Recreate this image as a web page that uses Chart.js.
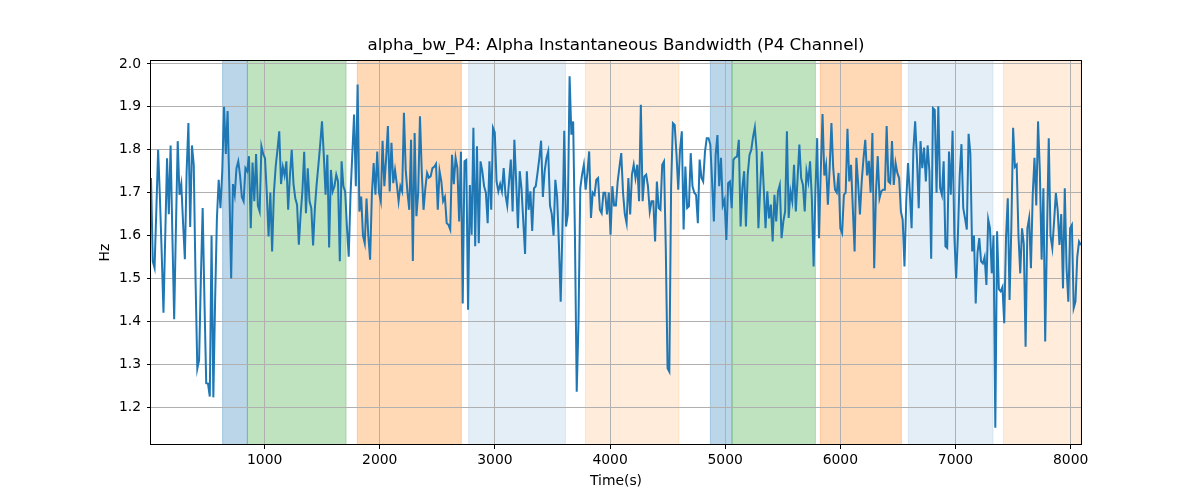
<!DOCTYPE html>
<html>
<head>
<meta charset="utf-8">
<script src="https://cdn.jsdelivr.net/npm/chart.js@4.4.1/dist/chart.umd.min.js"></script>
<style>
  html, body { margin: 0; padding: 0; background: #fff; }
  #wrap { width: 1200px; height: 500px; }
</style>
</head>
<body>
<div id="wrap"><canvas id="bwChart" width="1200" height="500"></canvas></div>
<script>
// sample times: first sample and spacing (s)
const startTime = 13;
const sampleStep = 15.47;

// alpha instantaneous bandwidth, P4 channel (Hz)
const alphaBandwidth = [
  1.734, 1.54, 1.525, 1.66, 1.80, 1.69, 1.56, 1.42, 1.60, 1.78,
  1.65, 1.81, 1.60, 1.405, 1.62, 1.82, 1.695, 1.72, 1.63, 1.545,
  1.75, 1.862, 1.62, 1.81, 1.765, 1.50, 1.29, 1.31, 1.50, 1.664,
  1.45, 1.256, 1.255, 1.225, 1.60, 1.223, 1.45, 1.64, 1.73, 1.664,
  1.75, 1.90, 1.79, 1.89, 1.71, 1.50, 1.72, 1.695, 1.757, 1.773,
  1.74, 1.69, 1.68, 1.757, 1.75, 1.785, 1.617, 1.77, 1.68, 1.79,
  1.67, 1.656, 1.808, 1.79, 1.78, 1.70, 1.598, 1.70, 1.563, 1.70,
  1.761, 1.80, 1.843, 1.72, 1.76,

  1.74, 1.773, 1.66, 1.74, 1.80, 1.72, 1.687, 1.672, 1.579, 1.649,
  1.703, 1.795, 1.652, 1.757, 1.68, 1.664, 1.577, 1.664, 1.72, 1.765,
  1.813, 1.866, 1.788, 1.695, 1.788, 1.572, 1.753, 1.703, 1.715, 1.742,
  1.726, 1.540, 1.773, 1.715, 1.703, 1.62, 1.551, 1.695, 1.788, 1.882,
  1.715, 1.952, 1.656, 1.691, 1.60, 1.582, 1.686, 1.60, 1.544, 1.695,
  1.769, 1.695, 1.796, 1.70, 1.680, 1.821, 1.715, 1.78, 1.855, 1.703,
  1.816, 1.722, 1.753, 1.72, 1.68, 1.715, 1.703, 1.886, 1.753, 1.70,
  1.66, 1.823, 1.541, 1.839, 1.645,

  1.70, 1.878, 1.75, 1.66, 1.71, 1.746, 1.735, 1.738, 1.757, 1.76,
  1.767, 1.660, 1.75, 1.726, 1.68, 1.69, 1.629, 1.625, 1.614, 1.788,
  1.72, 1.781, 1.757, 1.633, 1.795, 1.442, 1.773, 1.776, 1.427, 1.718,
  1.602, 1.851, 1.575, 1.808, 1.582, 1.773, 1.75, 1.715, 1.70, 1.629,
  1.773, 1.66, 1.851, 1.84, 1.726, 1.703, 1.72, 1.703, 1.757, 1.695,
  1.67, 1.726, 1.777, 1.656, 1.823, 1.726, 1.617, 1.75, 1.71, 1.633,
  1.557, 1.750, 1.66, 1.703, 1.611, 1.71, 1.715, 1.746, 1.78, 1.821,
  1.69, 1.75, 1.78, 1.796, 1.67,

  1.65, 1.60, 1.73, 1.69, 1.58, 1.446, 1.62, 1.844, 1.621, 1.649,
  1.971, 1.835, 1.866, 1.60, 1.236, 1.40, 1.71, 1.742, 1.765, 1.707,
  1.746, 1.796, 1.641, 1.70, 1.695, 1.73, 1.734, 1.66, 1.652, 1.70,
  1.70, 1.649, 1.70, 1.602, 1.715, 1.67, 1.67, 1.726, 1.76, 1.792,
  1.70, 1.65, 1.629, 1.734, 1.649, 1.742, 1.765, 1.734, 1.765, 1.68,
  1.905, 1.68, 1.738, 1.742, 1.715, 1.656, 1.68, 1.68, 1.586, 1.726,
  1.664, 1.66, 1.765, 1.773, 1.57, 1.291, 1.283, 1.715, 1.862, 1.858,
  1.79, 1.707, 1.80, 1.843, 1.614,

  1.761, 1.664, 1.668, 1.792, 1.715, 1.70, 1.695, 1.629, 1.777, 1.735,
  1.726, 1.795, 1.827, 1.827, 1.812, 1.726, 1.633, 1.788, 1.834, 1.715,
  1.781, 1.67, 1.683, 1.590, 1.722, 1.726, 1.664, 1.777, 1.782, 1.784,
  1.823, 1.621, 1.711, 1.750, 1.621, 1.742, 1.788, 1.80, 1.83, 1.852,
  1.797, 1.617, 1.711, 1.796, 1.711, 1.617, 1.703, 1.64, 1.672, 1.586,
  1.695, 1.633, 1.703, 1.718, 1.594, 1.633, 1.656, 1.843, 1.641, 1.703,
  1.68, 1.765, 1.656, 1.734, 1.812, 1.734, 1.718, 1.656, 1.75, 1.726,
  1.773, 1.687, 1.528, 1.703, 1.827,

  1.594, 1.75, 1.883, 1.74, 1.765, 1.672, 1.757, 1.862, 1.757, 1.707,
  1.70, 1.746, 1.617, 1.606, 1.695, 1.70, 1.849, 1.726, 1.765, 1.664,
  1.563, 1.781, 1.72, 1.649, 1.726, 1.78, 1.823, 1.74, 1.774, 1.70,
  1.839, 1.524, 1.70, 1.785, 1.687, 1.703, 1.707, 1.707, 1.855, 1.726,
  1.722, 1.82, 1.718, 1.769, 1.746, 1.734, 1.656, 1.637, 1.528, 1.68,
  1.769, 1.70, 1.617, 1.80, 1.866, 1.78, 1.664, 1.82, 1.757, 1.805,
  1.726, 1.81, 1.75, 1.546, 1.897, 1.893, 1.70, 1.901, 1.711, 1.695,
  1.773, 1.575, 1.571, 1.796, 1.695,

  1.844, 1.60, 1.50, 1.60, 1.74, 1.813, 1.664, 1.64, 1.614, 1.837,
  1.79, 1.563, 1.60, 1.442, 1.56, 1.594, 1.54, 1.535, 1.55, 1.485,
  1.638, 1.617, 1.512, 1.60, 1.152, 1.610, 1.475, 1.470, 1.48, 1.396,
  1.594, 1.687, 1.450, 1.62, 1.851, 1.76, 1.765, 1.60, 1.512, 1.617,
  1.58, 1.341, 1.617, 1.641, 1.524, 1.695, 1.781, 1.67, 1.866, 1.75,
  1.544, 1.71, 1.353, 1.60, 1.827, 1.60, 1.571, 1.633, 1.699, 1.66,
  1.578, 1.65, 1.477, 1.71, 1.524, 1.446, 1.617, 1.625, 1.431, 1.446,
  1.55, 1.586, 1.578
];

// shaded state intervals (s) and their kind
const bandStarts = [635, 850, 1805, 2772, 3786, 4871, 5059, 5826, 6591, 7416];
const bandEnds   = [850, 1707, 2708, 3612, 4599, 5059, 5783, 6530, 7326, 8090];
const bandKinds  = [0, 1, 2, 3, 4, 0, 1, 2, 3, 4];

const xTickValues = [1000, 2000, 3000, 4000, 5000, 6000, 7000, 8000];
const yTickValues = [1.2, 1.3, 1.4, 1.5, 1.6, 1.7, 1.8, 1.9, 2.0];
const xMin = 13, xMax = 8090;
const yMin = 1.112, yMax = 2.009;

const bandFill = [
  'rgba(31,119,180,0.3)',
  'rgba(44,160,44,0.3)',
  'rgba(255,127,14,0.3)',
  'rgba(31,119,180,0.12)',
  'rgba(255,127,14,0.15)'
];

const points = alphaBandwidth.map((v, i) => ({ x: startTime + i * sampleStep, y: v }));

const baseFont = { family: 'DejaVu Sans', size: 13.9 };

const bandsPlugin = {
  id: 'stateBands',
  beforeDraw(chart) {
    const { ctx, chartArea: a, scales: { x } } = chart;
    ctx.save();
    ctx.beginPath();
    ctx.rect(a.left, a.top, a.right - a.left, a.bottom - a.top);
    ctx.clip();
    bandStarts.forEach((s, i) => {
      const x0 = x.getPixelForValue(s);
      const x1 = x.getPixelForValue(bandEnds[i]);
      ctx.fillStyle = bandFill[bandKinds[i]];
      ctx.fillRect(x0, a.top, x1 - x0, a.bottom - a.top);
      ctx.strokeStyle = bandFill[bandKinds[i]];
      ctx.lineWidth = 1;
      ctx.strokeRect(x0, a.top - 2, x1 - x0, a.bottom - a.top + 4);
    });
    ctx.restore();
  },
  afterDraw(chart) {
    const { ctx, chartArea: a } = chart;
    ctx.save();
    ctx.strokeStyle = '#000';
    ctx.lineWidth = 1;
    ctx.strokeRect(Math.round(a.left) - 0.5, Math.round(a.top) + 0.5,
                   Math.round(a.right - a.left) + 1, Math.round(a.bottom - a.top) - 1);
    ctx.restore();
  }
};

new Chart(document.getElementById('bwChart').getContext('2d'), {
  type: 'line',
  data: {
    datasets: [{
      label: 'alpha_bw_P4',
      data: points,
      borderColor: '#1f77b4',
      borderWidth: 2,
      pointRadius: 0,
      fill: false,
      tension: 0
    }]
  },
  options: {
    responsive: false,
    animation: false,
    layout: { padding: { left: 0, right: 119, top: 0, bottom: 0 } },
    plugins: {
      legend: { display: false },
      tooltip: { enabled: false },
      title: {
        display: true,
        fullSize: false,
        text: 'alpha_bw_P4: Alpha Instantaneous Bandwidth (P4 Channel)',
        color: '#000',
        font: { family: 'DejaVu Sans', size: 16.7, weight: 'normal' },
        padding: { top: 36, bottom: 4 }
      }
    },
    scales: {
      x: {
        type: 'linear',
        min: xMin,
        max: xMax,
        afterBuildTicks: s => { s.ticks = xTickValues.map(v => ({ value: v })); },
        afterFit: s => { s.height = 55; },
        ticks: { callback: v => String(v), color: '#000', font: baseFont, padding: 3, maxRotation: 0, autoSkip: false },
        grid: { color: '#b0b0b0', lineWidth: 1, tickColor: '#000', tickLength: 4 },
        border: { display: false },
        title: { display: true, text: 'Time(s)', color: '#000', font: baseFont, padding: { top: 0, bottom: 10.5 } }
      },
      y: {
        type: 'linear',
        min: yMin,
        max: yMax,
        afterBuildTicks: s => { s.ticks = yTickValues.map(v => ({ value: v })); },
        afterFit: s => { s.width = 151; },
        ticks: { callback: v => v.toFixed(1), color: '#000', font: baseFont, padding: 6, autoSkip: false },
        grid: { color: '#b0b0b0', lineWidth: 1, tickColor: '#000', tickLength: 4 },
        border: { display: false },
        title: { display: true, text: 'Hz', color: '#000', font: baseFont, padding: { top: 97.5, bottom: 0 } }
      }
    }
  },
  plugins: [bandsPlugin]
});
</script>
</body>
</html>
